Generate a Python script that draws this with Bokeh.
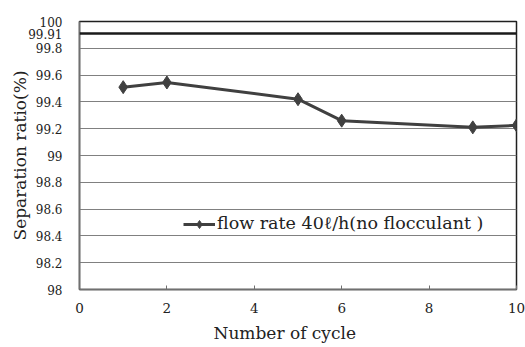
from bokeh.plotting import figure
from bokeh.models import (Range1d, FixedTicker, NumeralTickFormatter, Legend,
                          LegendItem, Span, Title, AllLabels)
from bokeh.embed import file_html
from bokeh.resources import INLINE

# Separation ratio per filtration cycle
cycles = [1, 2, 5, 6, 9, 10]
ratio = [99.51, 99.545, 99.42, 99.26, 99.21, 99.225]
series_name = "flow rate 40\u2113/h(no flocculant )"

# Reference level
ref_level = 99.91

x_ticks = [0, 2, 4, 6, 8, 10]
y_ticks = [98.0, 98.2, 98.4, 98.6, 98.8, 99.0, 99.2, 99.4, 99.6, 99.8, 100.0]
x_title = "Number of cycle"
y_title = "Separation ratio(%)"

FONT = "DejaVu Serif"

p = figure(width=525, height=347, output_backend="svg", toolbar_location=None,
           x_range=Range1d(0, 10), y_range=Range1d(98, 100),
           min_border_left=79, min_border_right=9, min_border_top=21,
           min_border_bottom=58)
p.background_fill_color = "white"
p.border_fill_color = "white"
p.outline_line_color = "#202020"
p.outline_line_width = 1.5

# axes: the y axis also labels the reference level
p.xaxis.ticker = FixedTicker(ticks=x_ticks)
p.yaxis.ticker = FixedTicker(ticks=sorted(y_ticks + [ref_level]))
p.yaxis.formatter = NumeralTickFormatter(format="0.[00]")
p.yaxis.major_label_policy = AllLabels()
for ax in (p.xaxis[0], p.yaxis[0]):
    ax.axis_line_color = "#707070"
    ax.axis_line_width = 1.5
    ax.major_label_text_font = FONT
    ax.major_label_text_font_size = "13.5px"
    ax.major_label_text_color = "#222222"
    ax.axis_label_text_font = FONT
    ax.axis_label_text_font_size = "17px"
    ax.axis_label_text_font_style = "normal"
    ax.axis_label_text_color = "#222222"
    ax.minor_tick_line_color = None
# slightly smaller y labels so the close 99.91 / 99.8 pair both fit
p.yaxis.major_label_text_font_size = "12px"
p.xaxis.major_tick_in = 4
p.xaxis.major_tick_out = 0
p.xaxis.major_tick_line_color = "#707070"
p.xaxis.major_label_standoff = 13
p.yaxis.major_tick_line_color = None
p.yaxis.major_label_standoff = 11
p.yaxis.axis_label = y_title
p.yaxis.axis_label_standoff = -5

# x-axis title, set left of centre under the axis
p.add_layout(Title(text=x_title, align="left", offset=134, standoff=10,
                   text_font=FONT, text_font_size="17px",
                   text_font_style="normal", text_color="#222222"), "below")

p.xgrid.grid_line_color = None
p.ygrid.ticker = FixedTicker(ticks=y_ticks)
p.ygrid.grid_line_color = "#808080"
p.ygrid.grid_line_width = 1.2

# reference line
p.add_layout(Span(location=ref_level, dimension="width", line_color="#1a1a1a",
                  line_width=2.5))

# data series
line = p.line(cycles, ratio, line_color="#404040", line_width=3)
pts = p.scatter(cycles, ratio, marker="diamond", size=13,
                fill_color="#404040", line_color="#404040")

# legend sample with a smaller marker (placed off the visible range)
key_x = [-5, -4]
key_y = [90, 90]
key_line = p.line(key_x, key_y, line_color="#404040", line_width=3)
key_pts = p.scatter(key_x, key_y, marker="diamond", size=9,
                    fill_color="#404040", line_color="#404040")

legend = Legend(items=[LegendItem(label=series_name,
                                  renderers=[key_line, key_pts])],
                location=(104, 55), orientation="horizontal",
                background_fill_color="white", background_fill_alpha=1,
                border_line_color=None, label_text_font=FONT,
                label_text_font_size="17.5px", label_text_color="#222222",
                glyph_width=32, glyph_height=20, padding=13, spacing=0,
                label_standoff=2, margin=0)
p.add_layout(legend)

open("out.html", "w").write(file_html(p, INLINE))
